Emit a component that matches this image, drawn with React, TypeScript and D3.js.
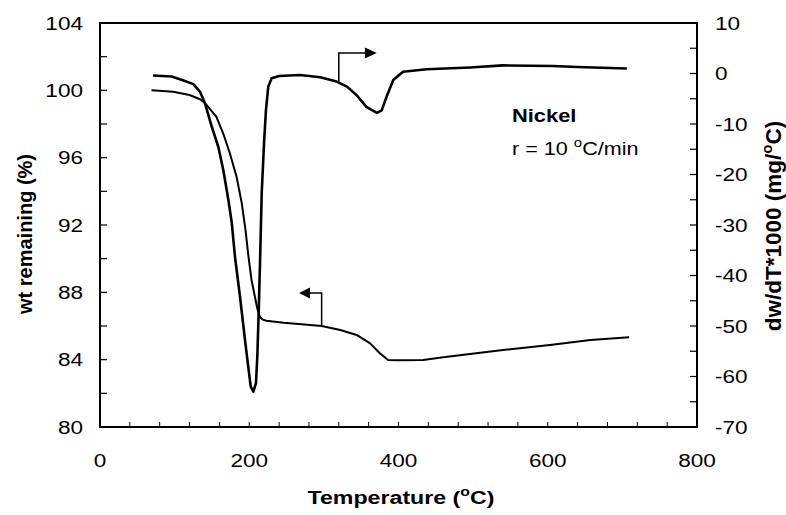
import React from "react";
import * as d3 from "d3";

// Weight-loss curve (left axis)
const wtTemp = [69, 98, 120, 134, 141, 150, 156, 165, 174, 183, 190, 195, 199, 203, 207.5, 211, 214.5, 218, 223, 246, 270, 297, 322, 344, 362, 375, 386, 400, 433, 460, 540, 603, 657, 709];
const wtValue = [100.0, 99.92, 99.72, 99.47, 99.23, 98.75, 98.43, 97.45, 96.26, 94.87, 93.29, 91.7, 90.1, 88.75, 87.75, 87.0, 86.52, 86.38, 86.31, 86.19, 86.1, 86.0, 85.76, 85.47, 84.97, 84.38, 83.98, 83.97, 83.98, 84.14, 84.57, 84.87, 85.17, 85.33];

// Derivative curve (right axis)
const dtgTemp = [71, 96, 112, 125, 134, 140.7, 149.7, 158.5, 165.2, 172, 176.5, 180.9, 187.6, 194.3, 198.7, 202, 205.5, 209, 210.8, 212.6, 214.4, 216.7, 219.8, 222.4, 225.5, 230, 240, 268, 295, 317, 331, 344, 357, 371, 377.5, 384, 393, 406, 438, 496, 540, 607, 640, 706];
const dtgValue = [-0.4, -0.6, -1.4, -2.1, -3.6, -5.9, -10.5, -14.5, -19.1, -25.0, -29.5, -36.3, -44.2, -52.8, -58.1, -62.0, -63.0, -61.3, -56.1, -47.5, -37.6, -23.7, -13.8, -7.2, -2.6, -0.95, -0.5, -0.3, -0.75, -1.6, -2.6, -4.3, -6.6, -7.8, -7.3, -4.6, -1.3, 0.36, 0.83, 1.2, 1.6, 1.5, 1.3, 1.0];

const xTickLabels = [0, 200, 400, 600, 800];
const leftTickLabels = [80, 84, 88, 92, 96, 100, 104];
const rightTickLabels = [10, 0, -10, -20, -30, -40, -50, -60, -70];

const W = 786, H = 515;
const L = 100, R = 697, TOP = 23, BOT = 427;
const FONT = "'Liberation Sans', Arial, Helvetica, sans-serif";

function Txt(props: any) {
  const { x, y, fs = 18.5, sx = 1.22, anchor = "start", weight = "normal", rotate = 0, children } = props;
  return (
    <g transform={`translate(${x},${y}) rotate(${rotate}) scale(${sx},1)`}>
      <text x={0} y={0} fontSize={fs} fontWeight={weight} textAnchor={anchor} fontFamily={FONT} fill="#000">
        {children}
      </text>
    </g>
  );
}

export default function App() {
  const x = d3.scaleLinear().domain([0, 800]).range([L, R]);
  const yL = d3.scaleLinear().domain([80, 104]).range([BOT, TOP]);
  const yR = d3.scaleLinear().domain([-70, 10]).range([BOT, TOP]);

  const wtLine = d3.line<number>().x((_, i) => x(wtTemp[i])).y((d) => yL(d))(wtValue) || "";
  const dtgLine = d3.line<number>().x((_, i) => x(dtgTemp[i])).y((d) => yR(d))(dtgValue) || "";

  const xMinor = d3.range(0, 801, 40);
  const yLMinor = d3.range(80, 104.1, 2);
  const yRMinor = d3.range(-70, 10.1, 5);

  // arrow annotations (data coordinates)
  const ra = { t0: 320, v0: -1.8, v1: 4.06, t1: 371 };
  const la = { t0: 297, v0: 86.0, v1: 87.96, t1: 266.7 };

  return (
    <svg width={W} height={H} style={{ position: "absolute", left: 0, top: 0, background: "#fff" }}>
      <rect x={0} y={0} width={W} height={H} fill="#fff" />
      {/* ticks */}
      {xMinor.map((t) => (
        <line key={"xt" + t} x1={x(t)} x2={x(t)} y1={BOT} y2={BOT - 5} stroke="#000" strokeWidth={1} />
      ))}
      {yLMinor.map((t) => (
        <line key={"yl" + t} x1={L} x2={L + 7} y1={yL(t)} y2={yL(t)} stroke="#000" strokeWidth={1.2} />
      ))}
      {yRMinor.map((t) => (
        <line key={"yr" + t} x1={R} x2={R - 7} y1={yR(t)} y2={yR(t)} stroke="#000" strokeWidth={1.2} />
      ))}
      {/* frame */}
      <rect x={L} y={TOP} width={R - L} height={BOT - TOP} fill="none" stroke="#000" strokeWidth={2} />

      {/* curves */}
      <path d={wtLine} fill="none" stroke="#000" strokeWidth={2} strokeLinejoin="round" />
      <path d={dtgLine} fill="none" stroke="#000" strokeWidth={2.6} strokeLinejoin="round" />

      {/* arrows */}
      <polyline points={`${x(ra.t0)},${yR(ra.v0)} ${x(ra.t0)},${yR(ra.v1)} ${x(ra.t1) - 10},${yR(ra.v1)}`} fill="none" stroke="#000" strokeWidth={1.5} />
      <polygon points={`${x(ra.t1)},${yR(ra.v1)} ${x(ra.t1) - 12},${yR(ra.v1) - 5.5} ${x(ra.t1) - 12},${yR(ra.v1) + 5.5}`} fill="#000" />
      <polyline points={`${x(la.t0)},${yL(la.v0)} ${x(la.t0)},${yL(la.v1)} ${x(la.t1) + 10},${yL(la.v1)}`} fill="none" stroke="#000" strokeWidth={1.5} />
      <polygon points={`${x(la.t1)},${yL(la.v1)} ${x(la.t1) + 11},${yL(la.v1) - 5.5} ${x(la.t1) + 11},${yL(la.v1) + 5.5}`} fill="#000" />

      {/* tick labels */}
      {xTickLabels.map((t) => (
        <Txt key={"xl" + t} x={x(t)} y={467} anchor="middle">{t}</Txt>
      ))}
      {leftTickLabels.map((t) => (
        <Txt key={"ll" + t} x={83} y={yL(t) + 6.5} anchor="end">{t}</Txt>
      ))}
      {rightTickLabels.map((t) => (
        <Txt key={"rl" + t} x={715} y={yR(t) + 6.5} anchor="start">{t}</Txt>
      ))}

      {/* axis titles */}
      <Txt x={401} y={504} anchor="middle" weight="bold" fs={19}>
        Temperature (<tspan fontSize={13} dy={-8}>o</tspan><tspan dy={8}>C)</tspan>
      </Txt>
      <Txt x={32} y={234} anchor="middle" weight="bold" fs={20} sx={1} rotate={-90}>
        wt remaining (%)
      </Txt>
      <Txt x={781} y={226} anchor="middle" weight="bold" fs={22.5} sx={1} rotate={-90}>
        dw/dT*1000 (mg/<tspan fontSize={15} dy={-9}>o</tspan><tspan dy={9}>C)</tspan>
      </Txt>

      {/* annotation */}
      <Txt x={512} y={122} weight="bold" fs={19} sx={1.15}>Nickel</Txt>
      <Txt x={512} y={155} fs={18} sx={1.2}>
        r = 10 <tspan fontSize={12.5} dy={-8}>o</tspan><tspan dy={8}>C/min</tspan>
      </Txt>
    </svg>
  );
}
